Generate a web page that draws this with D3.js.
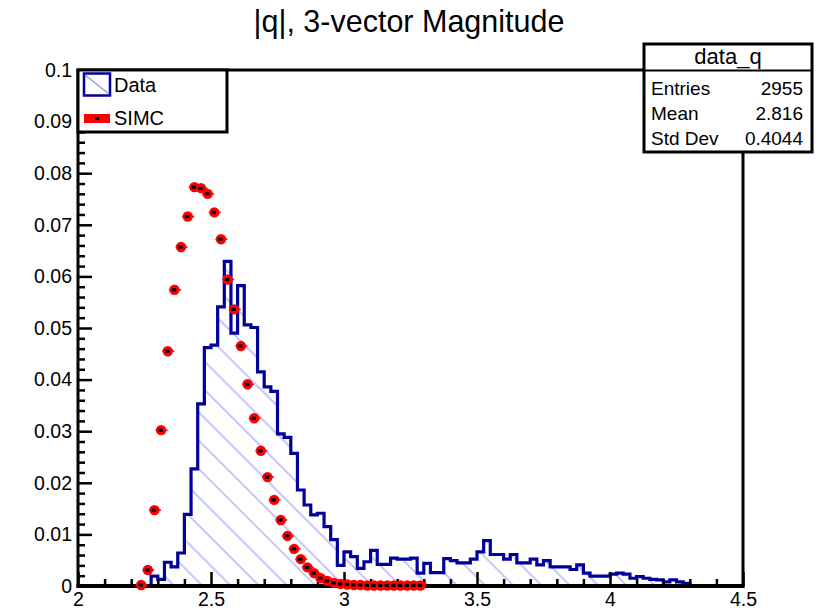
<!DOCTYPE html>
<html>
<head>
<meta charset="utf-8">
<script src="https://cdn.jsdelivr.net/npm/d3@7"></script>
<style>
  html, body { margin: 0; padding: 0; background: #ffffff; }
  svg { display: block; font-family: "Liberation Sans", Arial, Helvetica, sans-serif; }
</style>
</head>
<body>
<svg id="chart" width="834" height="611"></svg>
<script>
// ---------------- DATA ----------------
const titleText = "|q|, 3-vector Magnitude";
const binLow = 2.0;
const binWidth = 0.025;
// Data histogram (100 bins, 2.0 - 4.5)
const dataValues = [
  0, 0, 0, 0, 0, 0, 0, 0, 0, 0,
  0, 0.0019, 0.0013, 0.0046, 0.0037, 0.0064, 0.0139, 0.0227, 0.0353, 0.0462,
  0.0467, 0.0541, 0.0629, 0.0490, 0.0582, 0.0506, 0.0501, 0.0415, 0.0386, 0.0377,
  0.0295, 0.0288, 0.0257, 0.0186, 0.0157, 0.0138, 0.0141, 0.0115, 0.0090, 0.0040,
  0.0066, 0.0057, 0.0034, 0.0047, 0.0069, 0.0042, 0.0042, 0.0054, 0.0052, 0.0052,
  0.0054, 0.0025, 0.0044, 0.0026, 0.0026, 0.0053, 0.0049, 0.0045, 0.0045, 0.0052,
  0.0066, 0.0088, 0.0061, 0.0061, 0.0052, 0.0061, 0.0045, 0.0045, 0.0052, 0.0041,
  0.0049, 0.0037, 0.0037, 0.0037, 0.0032, 0.0041, 0.0025, 0.0019, 0.0019, 0.0019,
  0.0023, 0.0025, 0.0023, 0.0015, 0.0018, 0.0015, 0.0013, 0.0012, 0.0008, 0.0012,
  0.0008, 0.0005, 0, 0, 0, 0, 0, 0, 0, 0
];
// SIMC points: bin index and value
const simcBins = [9, 10, 11, 12, 13, 14, 15, 16, 17, 18, 19, 20, 21, 22, 23, 24, 25, 26, 27, 28,
  29, 30, 31, 32, 33, 34, 35, 36, 37, 38, 39, 40, 41, 42, 43, 44, 45, 46, 47, 48, 49, 50, 51];
const simcValues = [0.0002, 0.0031, 0.0147, 0.0302, 0.0455, 0.0574, 0.0657, 0.0716, 0.0773, 0.0771,
  0.0760, 0.0724, 0.0672, 0.0594, 0.0536, 0.0465, 0.0391, 0.0325, 0.0262, 0.0211,
  0.0167, 0.0128, 0.0097, 0.0072, 0.0052, 0.0036, 0.0025, 0.0015, 0.0010, 0.0006,
  0.0004, 0.0003, 0.0002, 0.0002, 0.0001, 0.0001, 0.0001, 0.0001, 0.0001, 0.0001,
  0.0001, 0.0001, 0.0001];
const xTickLabels = ["2", "2.5", "3", "3.5", "4", "4.5"];
const yTickLabels = ["0", "0.01", "0.02", "0.03", "0.04", "0.05", "0.06", "0.07", "0.08", "0.09", "0.1"];
const legendLabels = ["Data", "SIMC"];
const statsTitle = "data_q";
const statsNames = ["Entries", "Mean", "Std Dev"];
const statsValues = ["2955", "2.816", "0.4044"];

// ---------------- LAYOUT ----------------
const svg = d3.select("#chart");
const L = 78, R = 743, T = 70, B = 586;
const x = d3.scaleLinear().domain([2, 4.5]).range([L, R]);
const y = d3.scaleLinear().domain([0, 0.1]).range([B, T]);
const dataBlue = "#00009c";
const hatchBlue = "#8c8ff2";

svg.append("rect").attr("width", 834).attr("height", 611).attr("fill", "#fff");

// hatch pattern
const defs = svg.append("defs");
const pat = defs.append("pattern").attr("id", "hatch")
  .attr("patternUnits", "userSpaceOnUse")
  .attr("width", 20).attr("height", 20)
  .attr("patternTransform", "rotate(-45)");
pat.append("line").attr("x1", 9).attr("y1", -5).attr("x2", 9).attr("y2", 25)
  .attr("stroke", hatchBlue).attr("stroke-width", 1);

// ---------------- DATA HISTOGRAM ----------------
let first = dataValues.findIndex(v => v > 0);
let last = dataValues.length - 1 - [...dataValues].reverse().findIndex(v => v > 0);
let p = d3.path();
p.moveTo(x(binLow + first * binWidth), y(0));
for (let i = first; i <= last; i++) {
  const x0 = x(binLow + i * binWidth), x1 = x(binLow + (i + 1) * binWidth);
  p.lineTo(x0, y(dataValues[i]));
  p.lineTo(x1, y(dataValues[i]));
}
p.lineTo(x(binLow + (last + 1) * binWidth), y(0));
p.closePath();
svg.append("path").attr("d", p.toString()).attr("fill", "url(#hatch)").attr("stroke", "none");
svg.append("path").attr("d", p.toString()).attr("fill", "none")
  .attr("stroke", dataBlue).attr("stroke-width", 3.2).attr("stroke-linejoin", "miter");

// ---------------- AXES ----------------
const xMajor = x.ticks(5);
const xMinor = x.ticks(25).filter(t => !xMajor.some(m => Math.abs(m - t) < 1e-9));
const yMajor = y.ticks(10);
const yMinor = y.ticks(50).filter(t => !yMajor.some(m => Math.abs(m - t) < 1e-9));

const gx = svg.append("g").attr("transform", `translate(0,${B})`)
  .call(d3.axisBottom(x).tickValues(xMajor).tickSize(-14).tickSizeOuter(0).tickPadding(6)
    .tickFormat((d, i) => xTickLabels[i]));
const gxm = svg.append("g").attr("transform", `translate(0,${B})`)
  .call(d3.axisBottom(x).tickValues(xMinor).tickSize(-7).tickSizeOuter(0).tickFormat(""));
const gy = svg.append("g").attr("transform", `translate(${L},0)`)
  .call(d3.axisLeft(y).tickValues(yMajor).tickSize(-14).tickSizeOuter(0).tickPadding(6)
    .tickFormat((d, i) => yTickLabels[i]));
const gym = svg.append("g").attr("transform", `translate(${L},0)`)
  .call(d3.axisLeft(y).tickValues(yMinor).tickSize(-7).tickSizeOuter(0).tickFormat(""));
[gx, gxm, gy, gym].forEach(g => {
  g.select(".domain").remove();
  g.selectAll(".tick line").attr("stroke", "#000").attr("stroke-width", 2.5);
  g.selectAll(".tick text").attr("fill", "#000").attr("font-size", 19.5)
    .attr("font-family", "Liberation Sans, Arial, sans-serif");
});

// frame
svg.append("rect").attr("x", L).attr("y", T).attr("width", R - L).attr("height", B - T)
  .attr("fill", "none").attr("stroke", "#000").attr("stroke-width", 3);
svg.append("line").attr("x1", L - 1.5).attr("x2", R + 1.5).attr("y1", B).attr("y2", B)
  .attr("stroke", "#000").attr("stroke-width", 4);

// ---------------- SIMC POINTS ----------------
const sim = svg.append("g");
simcBins.forEach((b, i) => {
  const cx = x(binLow + (b + 0.5) * binWidth);
  const cy = y(simcValues[i]);
  sim.append("line").attr("x1", cx - 5.5).attr("x2", cx + 6.5).attr("y1", cy).attr("y2", cy)
    .attr("stroke", "#ff0000").attr("stroke-width", 1.5);
  sim.append("circle").attr("cx", cx).attr("cy", cy).attr("r", 5.2).attr("fill", "#ff0000");
});
simcBins.forEach((b, i) => {
  const cx = x(binLow + (b + 0.5) * binWidth);
  const cy = y(simcValues[i]);
  sim.append("rect").attr("x", cx - 2.7).attr("y", cy - 1.6).attr("width", 4.4).attr("height", 3.2)
    .attr("fill", "#000");
});

// ---------------- LEGEND ----------------
const lg = svg.append("g");
lg.append("rect").attr("x", 78).attr("y", 70).attr("width", 149).attr("height", 62)
  .attr("fill", "#fff").attr("stroke", "#000").attr("stroke-width", 3);
lg.append("rect").attr("x", 84).attr("y", 73.5).attr("width", 26).attr("height", 22)
  .attr("fill", "#fff").attr("stroke", dataBlue).attr("stroke-width", 2.5);
lg.append("line").attr("x1", 85).attr("y1", 75).attr("x2", 109).attr("y2", 94)
  .attr("stroke", hatchBlue).attr("stroke-width", 1.2);
lg.append("text").attr("x", 114).attr("y", 92).attr("font-size", 20).text(legendLabels[0]);
lg.append("rect").attr("x", 84).attr("y", 114).attr("width", 26).attr("height", 9)
  .attr("fill", "#ff0000");
lg.append("rect").attr("x", 95).attr("y", 117).attr("width", 4).attr("height", 3).attr("fill", "#000");
lg.append("text").attr("x", 114).attr("y", 125).attr("font-size", 20).text(legendLabels[1]);

// ---------------- STATS BOX ----------------
const st = svg.append("g");
st.append("rect").attr("x", 644).attr("y", 44).attr("width", 168).attr("height", 108)
  .attr("fill", "#fff").attr("stroke", "#000").attr("stroke-width", 3);
st.append("line").attr("x1", 644).attr("x2", 812).attr("y1", 70.5).attr("y2", 70.5)
  .attr("stroke", "#000").attr("stroke-width", 2);
st.append("text").attr("x", 728).attr("y", 64).attr("text-anchor", "middle")
  .attr("font-size", 22).text(statsTitle);
statsNames.forEach((n, i) => {
  const yy = 95 + i * 25;
  st.append("text").attr("x", 651).attr("y", yy).attr("font-size", 19).text(n);
  st.append("text").attr("x", 803).attr("y", yy).attr("text-anchor", "end")
    .attr("font-size", 19).text(statsValues[i]);
});

// ---------------- TITLE ----------------
svg.append("text").attr("x", 409).attr("y", 32).attr("text-anchor", "middle")
  .attr("font-size", 30.5).text(titleText);
</script>
</body>
</html>
